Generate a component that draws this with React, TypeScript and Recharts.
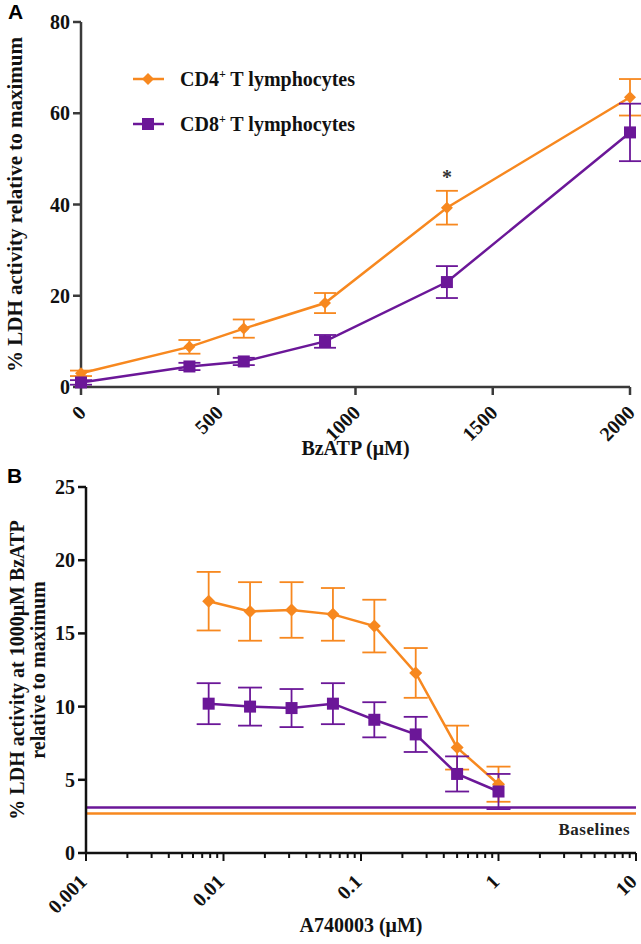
import { LineChart, Line, XAxis, YAxis, ErrorBar, ReferenceLine, LabelList, Label } from "recharts";

const ORANGE = "#F7881F";
const PURPLE = "#6B1798";
const AXIS_A = "#3a3a3a";
const AXIS_B = "#111";
const SERIF = "'Liberation Serif', 'Times New Roman', serif";
const SANS = "'Liberation Sans', Arial, sans-serif";

// panel A: BzATP dose response
const bzatpDose = [0, 395, 593, 889, 1333, 2000];
const cd4LdhA = [3, 8.8, 12.8, 18.4, 39.3, 63.5];
const cd4ErrA = [0.6, 1.5, 2, 2.2, 3.7, 4];
const cd8LdhA = [1, 4.5, 5.6, 10, 23, 55.8];
const cd8ErrA = [0.5, 0.8, 0.8, 1.4, 3.5, 6.3];
const sigA = ["", "", "", "", "*", ""];
const xTicksA = [0, 500, 1000, 1500, 2000];
const yTicksA = [0, 20, 40, 60, 80];

// panel B: A740003 inhibition at 1000uM BzATP
const a740Conc = [0.0078, 0.0156, 0.03125, 0.0625, 0.125, 0.25, 0.5, 1];
const cd4LdhB = [17.2, 16.5, 16.6, 16.3, 15.5, 12.3, 7.2, 4.7];
const cd4ErrB = [2, 2, 1.9, 1.8, 1.8, 1.7, 1.5, 1.2];
const cd8LdhB = [10.2, 10, 9.9, 10.2, 9.1, 8.1, 5.4, 4.2];
const cd8ErrB = [1.4, 1.3, 1.3, 1.4, 1.2, 1.2, 1.2, 1.2];
const baselineCd4 = 2.7;
const baselineCd8 = 3.1;
const xDecadesB = [0.001, 0.01, 0.1, 1, 10];
const yTicksB = [0, 5, 10, 15, 20, 25];

const dataA = bzatpDose.map((d, i) => ({
  dose: d,
  cd4: cd4LdhA[i],
  cd4Err: cd4ErrA[i],
  cd8: cd8LdhA[i],
  cd8Err: cd8ErrA[i],
  sig: sigA[i],
}));

const dataB = a740Conc.map((c, i) => ({
  conc: c,
  cd4: cd4LdhB[i],
  cd4Err: cd4ErrB[i],
  cd8: cd8LdhB[i],
  cd8Err: cd8ErrB[i],
}));

// major decades plus 2..9 minor ticks in between
const xTicksB: number[] = [];
xDecadesB.forEach((d, i) => {
  xTicksB.push(d);
  if (i < xDecadesB.length - 1) {
    for (let k = 2; k <= 9; k++) xTicksB.push(Number((k * d).toPrecision(3)));
  }
});

const isDecade = (v: number) => Math.abs(Math.log10(v) - Math.round(Math.log10(v))) < 1e-9;

const textStyle = { fontFamily: SERIF, fontWeight: 700, fontSize: 20, fill: "#111" };

function Diamond(props: any) {
  const { cx, cy, r = 6.5 } = props;
  if (cx == null || cy == null) return null;
  return (
    <polygon
      points={`${cx},${cy - r} ${cx + r},${cy} ${cx},${cy + r} ${cx - r},${cy}`}
      fill={ORANGE}
    />
  );
}

function Square(props: any) {
  const { cx, cy, s = 12 } = props;
  if (cx == null || cy == null) return null;
  return <rect x={cx - s / 2} y={cy - s / 2} width={s} height={s} fill={PURPLE} />;
}

function YTick(props: any) {
  const { x, y, payload } = props;
  return (
    <text x={x} y={y} dy="0.35em" textAnchor="end" style={textStyle}>
      {payload.value}
    </text>
  );
}

function RotTickA(props: any) {
  const { x, y, payload } = props;
  return (
    <text
      x={x + 1}
      y={y + 14}
      transform={`rotate(-45 ${x + 1} ${y + 14})`}
      textAnchor="end"
      dy="0.35em"
      style={textStyle}
    >
      {payload.value}
    </text>
  );
}

function LogTickB(props: any) {
  const { x, y, payload } = props;
  const major = isDecade(payload.value);
  const lx = x - 3;
  const ly = y + 25;
  return (
    <g>
      <line x1={x} x2={x} y1={y} y2={y + (major ? 8 : 5)} stroke={AXIS_B} strokeWidth={2} />
      {major && (
        <text x={lx} y={ly} transform={`rotate(-45 ${lx} ${ly})`} textAnchor="end" dy="0.35em" style={textStyle}>
          {String(payload.value)}
        </text>
      )}
    </g>
  );
}

function LegendA() {
  const row = (color: string, marker: "d" | "s", num: string) => (
    <div style={{ display: "flex", alignItems: "center", height: 45 }}>
      <svg width={36} height={16}>
        <line x1={0} x2={31} y1={8} y2={8} stroke={color} strokeWidth={2.5} />
        {marker === "d" ? <Diamond cx={15} cy={8} r={6} /> : <Square cx={15} cy={8} s={12} />}
      </svg>
      <span style={{ marginLeft: 11, fontFamily: SERIF, fontWeight: 700, fontSize: 20, color: "#111" }}>
        CD{num}
        <sup style={{ fontSize: 12 }}>+</sup> T lymphocytes
      </span>
    </div>
  );
  return (
    <div style={{ position: "absolute", left: 133, top: 56 }}>
      {row(ORANGE, "d", "4")}
      {row(PURPLE, "s", "8")}
    </div>
  );
}

function ChartA() {
  return (
    <LineChart width={641} height={470} data={dataA} margin={{ top: 22, right: 11, left: 0, bottom: 0 }}>
      <XAxis
        dataKey="dose"
        type="number"
        domain={[0, 2000]}
        ticks={xTicksA}
        height={83}
        axisLine={{ stroke: AXIS_A, strokeWidth: 2.5 }}
        tickLine={{ stroke: AXIS_A, strokeWidth: 2.5 }}
        tickSize={8}
        tickMargin={0}
        tick={<RotTickA />}
        interval={0}
      >
        <Label
          content={({ viewBox }: any) => (
            <text x={viewBox.x + viewBox.width / 2} y={viewBox.y + 68} textAnchor="middle" style={textStyle}>
              BzATP (μM)
            </text>
          )}
        />
      </XAxis>
      <YAxis
        type="number"
        domain={[0, 80]}
        ticks={yTicksA}
        width={81}
        axisLine={{ stroke: AXIS_A, strokeWidth: 2.5 }}
        tickLine={{ stroke: AXIS_A, strokeWidth: 2.5 }}
        tickSize={8}
        tickMargin={3}
        tick={<YTick />}
        interval={0}
      >
        <Label
          content={({ viewBox }: any) => {
            const cy = viewBox.y + viewBox.height / 2;
            return (
              <text
                x={22}
                y={cy}
                transform={`rotate(-90 22 ${cy})`}
                textAnchor="middle"
                style={{ ...textStyle, fontSize: 21 }}
              >
                % LDH activity relative to maximum
              </text>
            );
          }}
        />
      </YAxis>
      <Line
        dataKey="cd4"
        stroke={ORANGE}
        strokeWidth={2.5}
        isAnimationActive={false}
        dot={(p: any) => <Diamond key={`a4-${p.index}`} cx={p.cx} cy={p.cy} r={6} />}
        activeDot={false}
      >
        <ErrorBar dataKey="cd4Err" width={11} stroke={ORANGE} strokeWidth={1.8} direction="y" />
        <LabelList
          dataKey="sig"
          content={(p: any) =>
            p.value ? (
              <text x={p.x} y={p.y - 24} textAnchor="middle" style={{ ...textStyle, fill: "#333" }}>
                {p.value}
              </text>
            ) : null
          }
        />
      </Line>
      <Line
        dataKey="cd8"
        stroke={PURPLE}
        strokeWidth={2.5}
        isAnimationActive={false}
        dot={(p: any) => <Square key={`a8-${p.index}`} cx={p.cx} cy={p.cy} s={12} />}
        activeDot={false}
      >
        <ErrorBar dataKey="cd8Err" width={11} stroke={PURPLE} strokeWidth={1.8} direction="y" />
      </Line>
    </LineChart>
  );
}

function ChartB() {
  return (
    <LineChart width={641} height={484} data={dataB} margin={{ top: 27, right: 5, left: 0, bottom: 0 }}>
      <XAxis
        dataKey="conc"
        type="number"
        scale="log"
        domain={[0.001, 10]}
        ticks={xTicksB}
        allowDataOverflow
        height={91}
        axisLine={{ stroke: AXIS_B, strokeWidth: 2.5 }}
        tickLine={false}
        tickSize={0}
        tickMargin={0}
        tick={<LogTickB />}
        interval={0}
      >
        <Label
          content={({ viewBox }: any) => (
            <text x={viewBox.x + viewBox.width / 2} y={viewBox.y + 79} textAnchor="middle" style={textStyle}>
              A740003 (μM)
            </text>
          )}
        />
      </XAxis>
      <YAxis
        type="number"
        domain={[0, 25]}
        ticks={yTicksB}
        width={86}
        axisLine={{ stroke: AXIS_B, strokeWidth: 2.5 }}
        tickLine={{ stroke: AXIS_B, strokeWidth: 2.5 }}
        tickSize={8}
        tickMargin={3}
        tick={<YTick />}
        interval={0}
      >
        <Label
          content={({ viewBox }: any) => {
            const cy = viewBox.y + viewBox.height / 2;
            return (
              <g>
                <text x={24} y={cy} transform={`rotate(-90 24 ${cy})`} textAnchor="middle" style={textStyle}>
                  % LDH activity at 1000μM BzATP
                </text>
                <text x={45} y={cy} transform={`rotate(-90 45 ${cy})`} textAnchor="middle" style={textStyle}>
                  relative to maximum
                </text>
              </g>
            );
          }}
        />
      </YAxis>
      <ReferenceLine y={baselineCd8} stroke={PURPLE} strokeWidth={2.5} />
      <ReferenceLine
        y={baselineCd4}
        stroke={ORANGE}
        strokeWidth={2.5}
        label={(p: any) => {
          const vb = p.viewBox || {};
          return (
            <text
              x={(vb.x || 0) + (vb.width || 0) - 6}
              y={(vb.y || 0) + 22}
              textAnchor="end"
              style={{ ...textStyle, fontSize: 17, fill: "#222", letterSpacing: 0.5 }}
            >
              Baselines
            </text>
          );
        }}
      />
      <Line
        dataKey="cd4"
        stroke={ORANGE}
        strokeWidth={2.5}
        isAnimationActive={false}
        dot={(p: any) => <Diamond key={`b4-${p.index}`} cx={p.cx} cy={p.cy} r={6.5} />}
        activeDot={false}
      >
        <ErrorBar dataKey="cd4Err" width={12} stroke={ORANGE} strokeWidth={1.8} direction="y" />
      </Line>
      <Line
        dataKey="cd8"
        stroke={PURPLE}
        strokeWidth={2.5}
        isAnimationActive={false}
        dot={(p: any) => <Square key={`b8-${p.index}`} cx={p.cx} cy={p.cy} s={12} />}
        activeDot={false}
      >
        <ErrorBar dataKey="cd8Err" width={12} stroke={PURPLE} strokeWidth={1.8} direction="y" />
      </Line>
    </LineChart>
  );
}

export default function App() {
  return (
    <div style={{ position: "absolute", left: 0, top: 0, width: 641, height: 944, background: "#fff" }}>
      <div style={{ position: "absolute", left: 0, top: 0 }}>
        <ChartA />
      </div>
      <LegendA />
      <div style={{ position: "absolute", left: 0, top: 460 }}>
        <ChartB />
      </div>
      <div style={{ position: "absolute", left: 8, top: 0, fontFamily: SANS, fontWeight: 700, fontSize: 21 }}>A</div>
      <div style={{ position: "absolute", left: 7, top: 464, fontFamily: SANS, fontWeight: 700, fontSize: 21 }}>B</div>
    </div>
  );
}
